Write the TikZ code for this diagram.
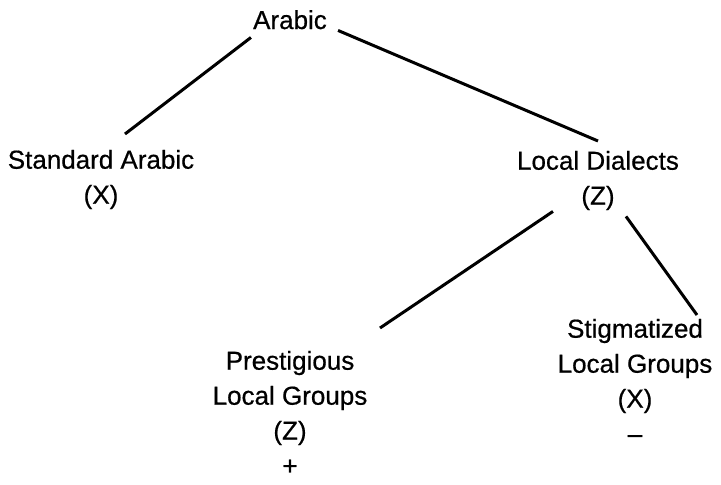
\documentclass[tikz,border=0pt]{standalone}
\usepackage{fontspec}
\setmainfont{Liberation Sans}[FakeBold=0.6]
\usepackage{tikz}
\usetikzlibrary{positioning, calc}
\newcommand{\treefont}{\fontsize{26}{35}\selectfont}

\begin{document}
\begin{tikzpicture}[x=1pt, y=-1pt,
  term/.style={inner sep=0pt, font=\treefont},
  branch/.style={line width=3pt}]
\useasboundingbox (0,0) rectangle (721,485);

% Root
\node[term, anchor=base] (arabic) at (290,29) {Arabic};

% First level
\node[term, anchor=north] (std) at (101,144) {
\begin{tabular}{@{}c@{}}
Standard Arabic \\
(X)
\end{tabular}
};
\node[term, anchor=north] (dial) at (598,145) {
\begin{tabular}{@{}c@{}}
Local Dialects \\
(Z)
\end{tabular}
};

% Second level
\node[term, anchor=north] (pres) at (290,345) {
\begin{tabular}{@{}c@{}}
Prestigious \\
Local Groups \\
(Z) \\
+
\end{tabular}
};
\node[term, anchor=north] (stig) at (635,313) {
\begin{tabular}{@{}c@{}}
Stigmatized \\
Local Groups \\
(X) \\
--
\end{tabular}
};

% Branches
\draw[branch] ([shift={(-2,8)}]arabic.south west) -- ([shift={(24,-10)}]std.north);
\draw[branch] ([shift={(11,1)}]arabic.south east) -- ([shift={(0,-4)}]dial.north);
\draw[branch] ([shift={(-45,-4)}]dial.south) -- ([shift={(90,-17)}]pres.north);
\draw[branch] ([shift={(28,1)}]dial.south) -- ([shift={(62,2)}]stig.north);
\end{tikzpicture}
\end{document}
